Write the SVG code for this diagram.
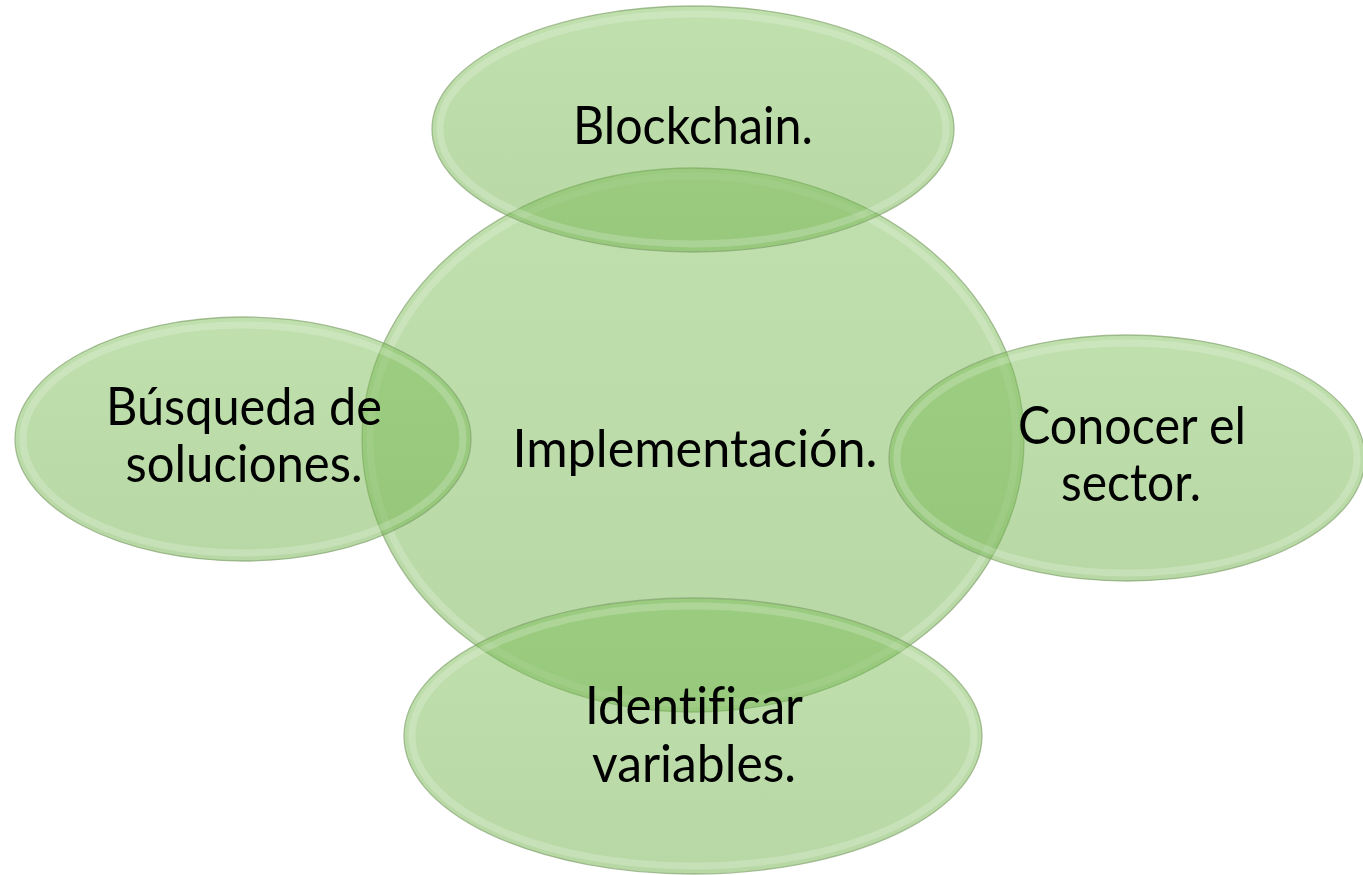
<svg xmlns="http://www.w3.org/2000/svg" width="1363" height="875" viewBox="0 0 1363 875">
<style>
.shape{fill:url(#g);stroke:#7fa06a;stroke-opacity:0.65;stroke-width:1.3}
.bevel{fill:none;stroke:#ffffff;stroke-opacity:0.2;stroke-width:7}
.lbl{font-family:Lato,"Open Sans","Liberation Sans",sans-serif;font-size:52px;fill:#000;text-anchor:middle;font-variant-ligatures:none}
</style>
<defs>
<linearGradient id="g" x1="0" y1="0" x2="0" y2="1">
<stop offset="0" stop-color="rgb(120,188,82)" stop-opacity="0.47"/>
<stop offset="1" stop-color="rgb(112,178,76)" stop-opacity="0.5"/>
</linearGradient>
</defs>
<rect width="1363" height="875" fill="#ffffff"/>
<g id="connectors"></g>
<g id="center">
<ellipse class="shape" cx="693" cy="440" rx="331" ry="272"/>
<ellipse class="bevel" cx="693" cy="440" rx="323" ry="264"/>
<text class="lbl" x="695" y="467" textLength="365" lengthAdjust="spacingAndGlyphs">Implementación.</text>
</g>
<g id="blockchain">
<ellipse class="shape" cx="693" cy="129" rx="261" ry="123"/>
<ellipse class="bevel" cx="693" cy="129" rx="253" ry="115"/>
<text class="lbl" x="693" y="144" textLength="240" lengthAdjust="spacingAndGlyphs">Blockchain.</text>
</g>
<g id="busqueda">
<ellipse class="shape" cx="243" cy="439" rx="228" ry="122"/>
<ellipse class="bevel" cx="243" cy="439" rx="220" ry="114"/>
<text class="lbl" x="244" y="425" textLength="276" lengthAdjust="spacingAndGlyphs">Búsqueda de</text>
<text class="lbl" x="244" y="482" textLength="237" lengthAdjust="spacingAndGlyphs">soluciones.</text>
</g>
<g id="conocer">
<ellipse class="shape" cx="1127" cy="458" rx="238" ry="123"/>
<ellipse class="bevel" cx="1127" cy="458" rx="230" ry="115"/>
<text class="lbl" x="1132" y="444" textLength="228" lengthAdjust="spacingAndGlyphs">Conocer el</text>
<text class="lbl" x="1131" y="501" textLength="140" lengthAdjust="spacingAndGlyphs">sector.</text>
</g>
<g id="identificar">
<ellipse class="shape" cx="693" cy="736" rx="289" ry="138"/>
<ellipse class="bevel" cx="693" cy="736" rx="281" ry="130"/>
<text class="lbl" x="694" y="724" textLength="218" lengthAdjust="spacingAndGlyphs">Identificar</text>
<text class="lbl" x="694" y="782" textLength="204" lengthAdjust="spacingAndGlyphs">variables.</text>
</g>
</svg>
